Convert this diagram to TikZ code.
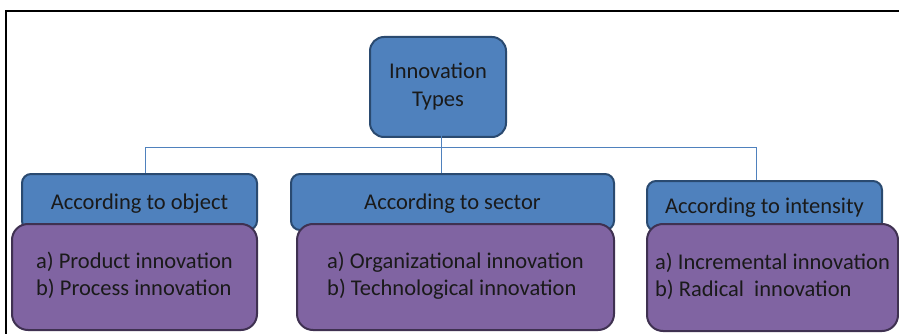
\documentclass[tikz,border=0pt]{standalone}
\usepackage{fontspec}
\setmainfont{Carlito}
\usepackage{tikz}
\usetikzlibrary{calc}

\definecolor{boxblue}{HTML}{4F81BD}
\definecolor{boxblueline}{HTML}{2A4A70}
\definecolor{boxpurple}{HTML}{8064A2}
\definecolor{boxpurpleline}{HTML}{3F3151}
\definecolor{inktext}{HTML}{1A1A1A}

\begin{document}
\begin{tikzpicture}[x=1pt,y=-1pt,
   rootbox/.style={
      draw = boxblueline,
      fill = boxblue,
      line width = 2pt,
      rounded corners = 14pt,
      align = center,
      text = inktext,
      minimum width = 136pt,
      minimum height = 100pt,
      font = \fontsize{22.5}{28}\selectfont
   },
   catbox/.style={
      draw = boxblueline,
      fill = boxblue,
      line width = 2pt,
      rounded corners = 9pt,
      text = inktext,
      text depth = 0pt,
      minimum height = 56pt,
      font = \fontsize{22.5}{27}\selectfont
   },
   listbox/.style={
      draw = boxpurpleline,
      fill = boxpurple,
      line width = 2pt,
      rounded corners = 16pt,
      align = left,
      text = inktext,
      minimum height = 106pt,
      text depth = 6pt,
      font = \fontsize{22.5}{27}\selectfont
   },
   link/.style={
      draw = boxblue,
      line width = 1pt
   }]

   \useasboundingbox (0,0) rectangle (899,334);

   % frame
   \draw[line width=1.5pt] (6,334) |- (899,11);

   \node[rootbox] (root) at (438,87) {Innovation\\Types};

   \node[catbox, minimum width=235pt] (a) at (139.5,202) {According to object};
   \node[catbox, minimum width=323pt] (b) at (452.5,202) {According to sector};
   \node[catbox, minimum width=235pt, minimum height=50pt] (c) at (764.5,206) {According to intensity};

   \node[listbox, minimum width=245pt] (la) at (134.5,277) {a) Product innovation\\b) Process innovation};
   \node[listbox, minimum width=317pt] (lb) at (455.5,277) {a) Organizational innovation\\b) Technological innovation};
   \node[listbox, minimum width=251pt, minimum height=107pt] (lc) at (772.5,277.5) {a) Incremental innovation\\b) Radical~ innovation};

   % connectors
   \coordinate (hub) at (441,147);
   \draw[link] ([xshift=3pt,yshift=22pt]root.south) -- (hub);
   \draw[link] (hub) -| ([xshift=5.5pt]a.north);
   \draw[link] (hub) -- (hub |- b.north);
   \draw[link] (hub) -| ([xshift=-8.5pt]c.north);

\end{tikzpicture}
\end{document}
